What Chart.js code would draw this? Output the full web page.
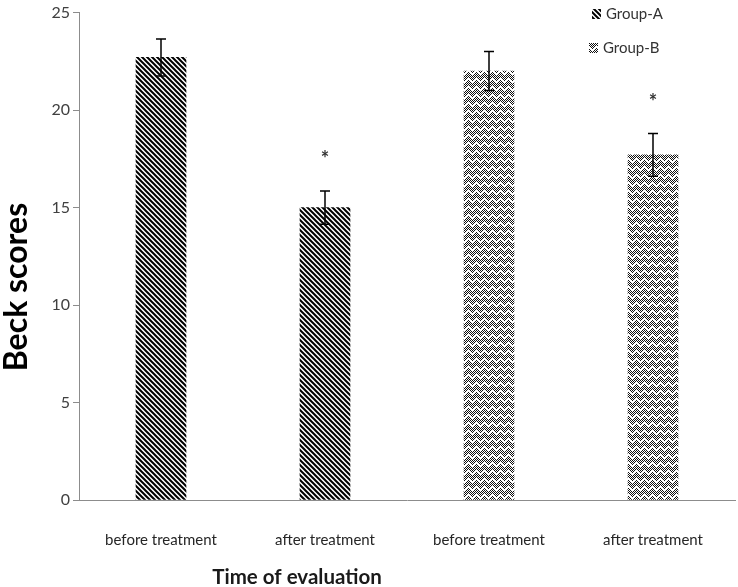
<!DOCTYPE html>
<html>
<head>
<meta charset="utf-8">
<script src="https://cdn.jsdelivr.net/npm/chart.js@4.4.0/dist/chart.umd.min.js"></script>
<style>html,body{margin:0;padding:0;background:#fff}</style>
</head>
<body>
<canvas id="chart" width="738" height="587"></canvas>
<script>
const labels = ["before treatment", "after treatment", "before treatment", "after treatment"];
const groupA = [22.7, 15.0, null, null];
const groupB = [null, null, 22.0, 17.7];
const errA = [0.95, 0.85, null, null];
const errB = [null, null, 1.0, 1.1];
const starA = [false, true, false, false];
const starB = [false, false, false, true];
const yMax = 25, yStep = 5;
const xTitle = "Time of evaluation", yTitle = "Beck scores";

function stripes() {
  const c = document.createElement("canvas");
  c.width = c.height = 5;
  const g = c.getContext("2d");
  g.fillStyle = "#fff"; g.fillRect(0, 0, 5, 5);
  g.strokeStyle = "#000"; g.lineWidth = 2;
  g.beginPath();
  for (let k = -1; k <= 1; k++) { g.moveTo(k * 5 - 1, -1); g.lineTo(k * 5 + 6, 6); }
  g.stroke();
  return g.createPattern(c, "repeat");
}

// checkered zig-zag weave
function weave() {
  const c = document.createElement("canvas");
  c.width = 8; c.height = 8;
  const g = c.getContext("2d");
  g.fillStyle = "#fff"; g.fillRect(0, 0, 8, 8);
  for (let x = 0; x < 8; x++) {
    for (let y = 0; y < 8; y++) {
      const d = ((y - Math.abs(x - 4)) % 8 + 8) % 8;
      const on = d == 0 || ((d == 2 || d == 3 || d == 4) && (x + y) % 2 == 0);
      if (on) { g.fillStyle = "#111"; g.fillRect(x, y, 1, 1); }
    }
  }
  return g.createPattern(c, "repeat");
}

const patA = stripes(), patB = weave();

const extras = {
  id: "extras",
  afterDatasetsDraw(chart) {
    const { ctx, scales: { y } } = chart;
    const errs = [errA, errB], stars = [starA, starB];
    chart.data.datasets.forEach((ds, i) => {
      chart.getDatasetMeta(i).data.forEach((bar, j) => {
        const v = ds.data[j];
        if (v == null) return;
        const e = errs[i][j];
        const top = y.getPixelForValue(v + e), bot = y.getPixelForValue(v - e);
        ctx.save();
        ctx.strokeStyle = "#000"; ctx.lineWidth = 1.5;
        ctx.beginPath();
        ctx.moveTo(bar.x, top); ctx.lineTo(bar.x, bot);
        ctx.moveTo(bar.x - 5, top); ctx.lineTo(bar.x + 5, top);
        ctx.moveTo(bar.x - 5, bot); ctx.lineTo(bar.x + 5, bot);
        ctx.stroke();
        if (stars[i][j]) {
          ctx.fillStyle = "#333"; ctx.font = "bold 20px Lato";
          ctx.textAlign = "center"; ctx.textBaseline = "middle";
          ctx.fillText("*", bar.x, top - 31);
        }
        ctx.restore();
      });
    });
  },
  afterDraw(chart) {
    const ctx = chart.ctx;
    // legend, top right
    const pos = [[592, 14], [589, 48]];
    chart.data.datasets.forEach((ds, i) => {
      const [x, yy] = pos[i];
      ctx.save();
      ctx.fillStyle = ds.backgroundColor;
      ctx.fillRect(x, yy - 5, 9, 10);
      ctx.fillStyle = "#333"; ctx.font = "15px Lato";
      ctx.textBaseline = "middle";
      ctx.fillText(ds.label, x + 14, yy);
      ctx.restore();
    });
    // axis titles
    ctx.save();
    ctx.fillStyle = "#1a1a1a";
    ctx.textAlign = "center"; ctx.textBaseline = "middle";
    ctx.font = "bold 20.5px Lato";
    ctx.fillText(xTitle, 297, 577);
    ctx.translate(17, 287);
    ctx.rotate(-Math.PI / 2);
    ctx.fillStyle = "#000";
    ctx.font = "bold 32px Lato";
    ctx.fillText(yTitle, 0, 0);
    ctx.restore();
  }
};

const chart = new Chart(document.getElementById("chart"), {
  type: "bar",
  data: {
    labels: labels,
    datasets: [
      { label: "Group-A", data: groupA, backgroundColor: patA, barThickness: 50 },
      { label: "Group-B", data: groupB, backgroundColor: patB, barThickness: 50 }
    ]
  },
  options: {
    responsive: false,
    animation: false,
    skipNull: true,
    layout: { padding: { top: 9, right: 3, left: 0, bottom: 0 } },
    plugins: { legend: { display: false }, tooltip: { enabled: false } },
    scales: {
      x: {
        grid: { display: false, drawTicks: false },
        border: { display: true, color: "#8c8c8c", width: 1 },
        ticks: { color: "#262626", font: { family: "Lato", size: 15 }, padding: 31 },
        afterFit(s) { s.height = 87; }
      },
      y: {
        min: 0, max: yMax,
        grid: { drawOnChartArea: false, drawTicks: true, tickLength: 6, color: "#8c8c8c" },
        border: { display: true, color: "#8c8c8c", width: 1 },
        ticks: { stepSize: yStep, color: "#404040", font: { family: "Lato", size: 16 }, padding: 3 },
        afterFit(s) { s.width = 79; }
      }
    }
  },
  plugins: [extras]
});
</script>
</body>
</html>
